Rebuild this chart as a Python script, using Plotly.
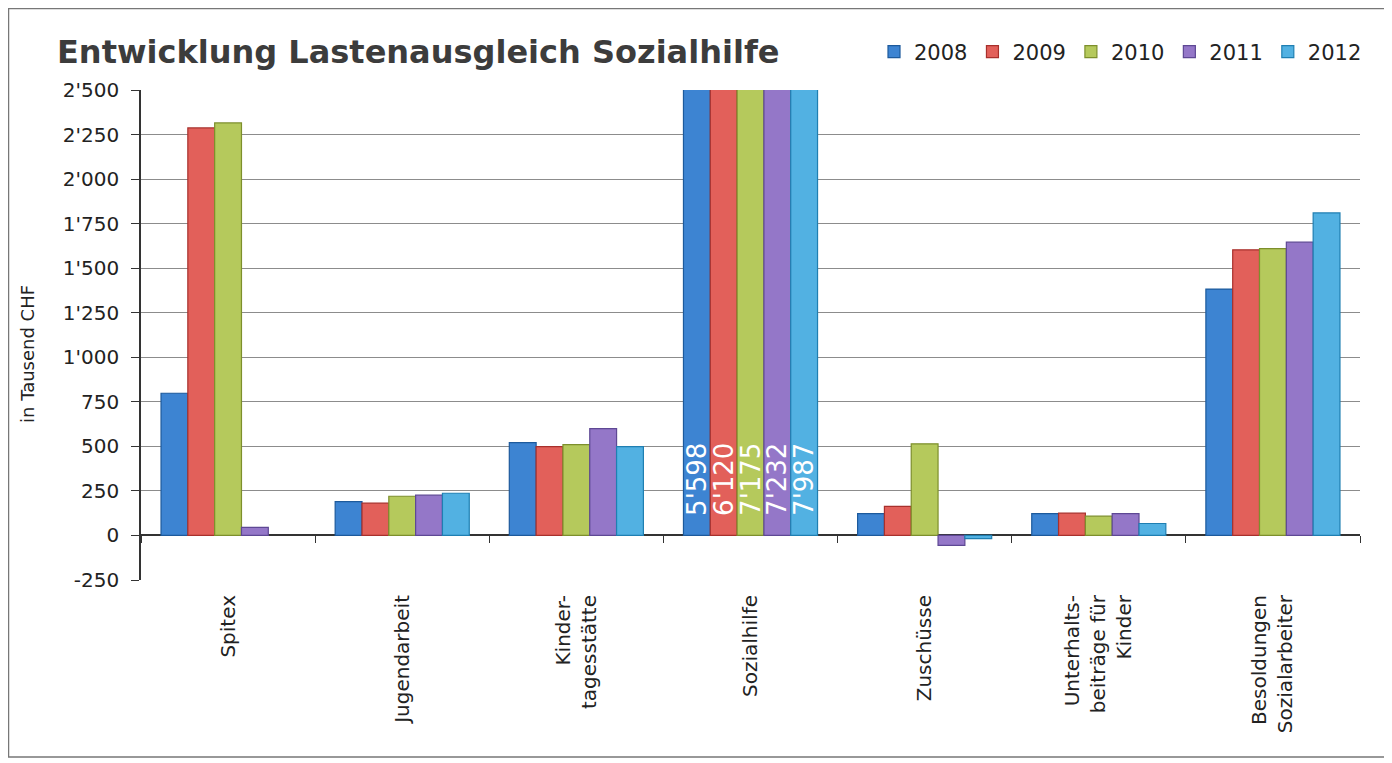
import plotly.graph_objects as go

categories = ["Spitex", "Jugendarbeit", "Kinder-<br>tagesstätte", "Sozialhilfe", "Zuschüsse",
              "Unterhalts-<br>beiträge für<br>Kinder", "Besoldungen<br>Sozialarbeiter"]
years = ["2008", "2009", "2010", "2011", "2012"]
v2008 = [798, 190, 521, 5598, 123, 123, 1383]
v2009 = [2287, 181, 499, 6120, 163, 125, 1603]
v2010 = [2315, 220, 510, 7175, 514, 108, 1610]
v2011 = [45, 226, 600, 7232, -56, 123, 1646]
v2012 = [None, 237, 499, 7987, -18, 67, 1810]
labelled_category = "Sozialhilfe"
y_ticks = [-250, 0, 250, 500, 750, 1000, 1250, 1500, 1750, 2000, 2250, 2500]
y_title = "in Tausend CHF"
chart_title = "Entwicklung Lastenausgleich Sozialhilfe"


def fmt(v):
    return f"{v:,}".replace(",", "'")


series = [v2008, v2009, v2010, v2011, v2012]
fills = ["#3d84d2", "#e2605a", "#b5c95c", "#9477c8", "#52b1e2"]
edges = ["#1d5a9c", "#a8302c", "#7d8f2c", "#5e4894", "#1f7fb2"]

FONT = "DejaVu Sans"
OFF = 8  # page body margin
W, H = 1392 - OFF, 763 - OFF
L, T, R, B = 141 - OFF, 90 - OFF, 32, 183
PW, PH = W - L - R, H - T - B

fig = go.Figure()
for yr, vals, fc, ec in zip(years, series, fills, edges):
    texts = ["\u00a0\u00a0" + fmt(v) if c == labelled_category else "" for c, v in zip(categories, vals)]
    fig.add_trace(go.Bar(
        name=yr, x=categories, y=vals, text=texts,
        textposition="inside", insidetextanchor="start", textangle=-90, constraintext="none",
        textfont=dict(family=FONT, size=26, color="white"),
        marker=dict(color=fc, line=dict(color=ec, width=1.2)),
        cliponaxis=True,
    ))

# invisible trace to carry the category tick axis on the zero line
fig.add_trace(go.Scatter(x=categories, y=[0] * len(categories), xaxis="x2", mode="markers",
                         marker=dict(opacity=0), showlegend=False, hoverinfo="skip"))

ymin, ymax = y_ticks[0], y_ticks[-1]
fig.update_layout(
    width=W, height=H,
    paper_bgcolor="white", plot_bgcolor="white",
    separators=".'",
    barmode="group", bargap=0.23, bargroupgap=0,
    margin=dict(l=L, r=R, t=T, b=B),
    title=dict(text=f"<b>{chart_title}</b>", x=(57 - OFF) / W, xref="container",
               xanchor="left", y=1 - (52 - OFF) / H, yref="container", yanchor="middle",
               font=dict(family=FONT, size=32, color="#3c3c3c")),
    legend=dict(orientation="h", x=1.0 + 7 / PW, xanchor="right", y=1 + (90 - 52) / PH, yanchor="middle",
                font=dict(family=FONT, size=21, color="#222"), traceorder="normal",
                bgcolor="rgba(0,0,0,0)"),
    xaxis=dict(type="category", tickangle=-90, showgrid=False, ticks="", showline=False,
               ticklabelstandoff=10,
               tickfont=dict(family=FONT, size=20, color="#222"), range=[-0.5, 6.5]),
    xaxis2=dict(type="category", overlaying="x", anchor="free", side="bottom",
                position=(0 - ymin) / (ymax - ymin), range=[-0.5, 6.5],
                tickson="boundaries", ticks="outside", ticklen=7, tickcolor="#333",
                showticklabels=False, showgrid=False, showline=False, zeroline=False,
                categoryarray=categories, categoryorder="array"),
    yaxis=dict(range=[ymin, ymax], tickvals=y_ticks, ticktext=[fmt(v) for v in y_ticks],
               showgrid=True, gridcolor="#8c8c8c", gridwidth=1,
               zeroline=True, zerolinecolor="#333", zerolinewidth=1.5,
               showline=True, linecolor="#333", linewidth=1.5,
               ticks="outside", ticklen=8, tickcolor="#333", ticklabelstandoff=8,
               tickfont=dict(family=FONT, size=20, color="#222")),
    annotations=[dict(text=y_title, textangle=-90, xref="paper", yref="paper",
                      x=(27 - OFF - L) / PW, y=(T + PH - (354 - OFF)) / PH,
                      xanchor="center", yanchor="middle", showarrow=False,
                      font=dict(family=FONT, size=18, color="#222"))],
    shapes=[dict(type="rect", xref="paper", yref="paper",
                 x0=(0.5 - L) / PW, x1=(1385 - OFF - L) / PW,
                 y0=(T + PH - (757 - OFF)) / PH, y1=(T + PH - 0.5) / PH,
                 line=dict(color="#777", width=1.5), fillcolor="rgba(0,0,0,0)", layer="below")],
)
fig.write_html("out.html")
